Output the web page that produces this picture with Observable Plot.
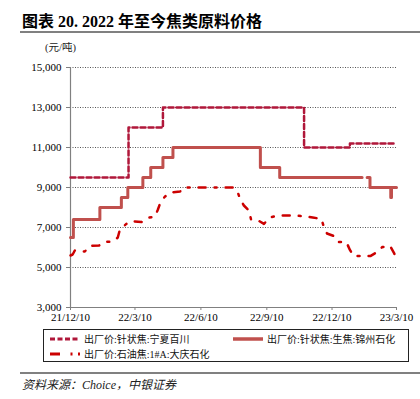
<!DOCTYPE html>
<html>
<head>
<meta charset="utf-8">
<script src="https://cdn.jsdelivr.net/npm/d3@7"></script>
<script src="https://cdn.jsdelivr.net/npm/@observablehq/plot@0.6"></script>
<style>
  html, body { margin: 0; padding: 0; background: #fff; }
  #root { position: relative; width: 420px; height: 399px; overflow: hidden; font-family: "Liberation Serif", "Noto Sans CJK SC", serif; }
  #title { position: absolute; left: 22px; top: 12px; font-size: 16px; font-weight: bold; white-space: nowrap; line-height: 20px; color: #000; }
  #rule1 { position: absolute; left: 20px; top: 31px; width: 400px; height: 2px; background: #808080; }
  #unit { position: absolute; left: 45px; top: 41px; font-size: 10.5px; white-space: nowrap; line-height: 14px; color: #222; }
  #chart { position: absolute; left: 0; top: 40px; }
  #legend { position: absolute; left: 43px; top: 329px; width: 364px; height: 31px; border: 1.5px solid #222; }
  .item { position: absolute; display: flex; align-items: center; font-size: 10px; white-space: nowrap; color: #111; font-family: "Liberation Serif", "Noto Sans CJK SC", serif; }
  .item svg { margin-right: 4px; }
  #rule2 { position: absolute; left: 20px; top: 372px; width: 400px; height: 1.5px; background: #808080; }
  #source { position: absolute; left: 22px; top: 377px; font-size: 12px; font-style: italic; white-space: nowrap; line-height: 16px; color: #222; }
</style>
</head>
<body>
<div id="root">
  <div id="title">图表 20. 2022 年至今焦类原料价格</div>
  <div id="rule1"></div>
  <div id="unit">(元/吨)</div>
  <div id="chart"></div>
  <div id="legend"></div>
  <div id="rule2"></div>
  <div id="source">资料来源：Choice，中银证券</div>
</div>
<script>
// ---- data ----
const seriesNames = ["出厂价:针状焦:宁夏百川", "出厂价:针状焦:生焦:锦州石化", "出厂价:石油焦:1#A:大庆石化"];
const seriesColors = ["#B0173A", "#C0504D", "#CC0000"];

// 宁夏百川 (step)
const s1Dates = ["2021-12-10", "2022-03-01", "2022-04-18", "2022-11-01", "2023-01-04", "2023-03-10"];
const s1Values = [9500, 12000, 13000, 11000, 11200, 11200];

// 锦州石化 (step, with a gap)
const s2Dates = ["2021-12-10", "2021-12-14", "2022-01-20", "2022-02-19", "2022-02-28", "2022-03-21", "2022-04-01", "2022-04-18", "2022-05-02", "2022-09-01", "2022-09-28", "2023-01-21", "2023-01-22", "2023-01-28", "2023-02-01", "2023-03-02", "2023-03-03", "2023-03-10"];
const s2Values = [6500, 7400, 8000, 8500, 9000, 9500, 10000, 10500, 11000, 10000, 9500, 9500, null, 9500, 9000, 8500, 9000, 9000];

// 大庆石化
const s3Dates = ["2021-12-10", "2021-12-13", "2021-12-16", "2021-12-30", "2022-01-06", "2022-01-19", "2022-01-27", "2022-02-08", "2022-02-14", "2022-02-17", "2022-02-26", "2022-03-05", "2022-03-19", "2022-03-28", "2022-04-07", "2022-04-11", "2022-04-15", "2022-04-21", "2022-04-29", "2022-05-12", "2022-05-17", "2022-06-02", "2022-06-23", "2022-07-10", "2022-07-25", "2022-07-31", "2022-08-04", "2022-08-09", "2022-08-16", "2022-08-19", "2022-08-29", "2022-09-06", "2022-09-14", "2022-09-26", "2022-10-07", "2022-10-21", "2022-11-02", "2022-11-13", "2022-11-25", "2022-11-29", "2022-12-03", "2022-12-13", "2022-12-19", "2022-12-30", "2023-01-04", "2023-01-09", "2023-01-21", "2023-02-02", "2023-02-11", "2023-02-18", "2023-03-01", "2023-03-07", "2023-03-09", "2023-03-10"];
const s3Values = [5600, 5650, 5850, 5800, 6080, 6100, 6280, 6300, 6500, 6900, 7180, 7320, 7270, 7480, 7550, 7900, 8300, 8550, 8750, 8800, 9000, 9000, 9000, 9000, 9000, 8800, 8400, 8100, 7850, 7400, 7350, 7180, 7500, 7600, 7600, 7600, 7550, 7500, 7430, 7000, 6700, 6570, 6270, 6270, 5880, 5580, 5580, 5580, 5770, 6020, 6080, 5690, 5320, 5300];

// axes
const xTickDates = ["2021-12-10", "2022-03-10", "2022-06-10", "2022-09-10", "2022-12-10", "2023-03-10"];
const xTickLabels = ["21/12/10", "22/3/10", "22/6/10", "22/9/10", "22/12/10", "23/3/10"];
const yTicks = [3000, 5000, 7000, 9000, 11000, 13000, 15000];

// ---- build ----
const parse = d3.utcParse("%Y-%m-%d");
const mk = (dates, vals) => dates.map((d, i) => ({date: parse(d), value: vals[i] == null ? NaN : vals[i]}));
const d1 = mk(s1Dates, s1Values);
const d2 = mk(s2Dates, s2Values);
const d3s = mk(s3Dates, s3Values);
const xt = xTickDates.map(parse);
const labelOf = new Map(xt.map((d, i) => [+d, xTickLabels[i]]));

const chart = Plot.plot({
  width: 420,
  height: 290,
  marginLeft: 70,
  marginRight: 24,
  marginTop: 27,
  marginBottom: 23,
  style: {fontFamily: "Liberation Serif, serif", fontSize: "11px", color: "#000", background: "transparent"},
  x: {type: "utc", domain: [xt[0], xt[xt.length - 1]], ticks: xt, tickFormat: d => labelOf.get(+d), tickSize: 3, tickPadding: 3, label: null},
  y: {domain: [3000, 15000], ticks: yTicks, tickFormat: d3.format(","), tickSize: 4, tickPadding: 5, label: null},
  marks: [
    Plot.ruleY(yTicks.slice(1), {stroke: "#555", strokeWidth: 1, strokeDasharray: "1,1.5"}),
    Plot.ruleX([xt[0]], {stroke: "#808080", strokeWidth: 1.2}),
    Plot.ruleY([3000], {stroke: "#808080", strokeWidth: 1.2}),
    Plot.line(d1, {x: "date", y: "value", curve: "step-after", stroke: seriesColors[0], strokeWidth: 2.5, strokeDasharray: "5,3"}),
    Plot.line(d2, {x: "date", y: "value", curve: "step-after", stroke: seriesColors[1], strokeWidth: 3}),
    Plot.line(d3s, {x: "date", y: "value", curve: "linear", stroke: seriesColors[2], strokeWidth: 2.5, strokeDasharray: "7,9,2,9"})
  ]
});
chart.querySelectorAll("[aria-label='y-axis tick'], [aria-label='x-axis tick']").forEach(g => g.setAttribute("stroke", "#808080"));
document.getElementById("chart").appendChild(chart);

// legend
const legend = document.getElementById("legend");
const swatchDash = ["5,2.5", null, "10,10.5,2,5.5,2,10"];
const swatchWidth = [3, 3.5, 3];
const positions = [[6, 1], [189, 1], [6, 16]];
seriesNames.forEach((name, i) => {
  const div = document.createElement("div");
  div.className = "item";
  div.style.left = positions[i][0] + "px";
  div.style.top = positions[i][1] + "px";
  const ns = "http://www.w3.org/2000/svg";
  const svg = document.createElementNS(ns, "svg");
  svg.setAttribute("width", 30); svg.setAttribute("height", 12);
  const ln = document.createElementNS(ns, "line");
  ln.setAttribute("x1", 0); ln.setAttribute("x2", 30); ln.setAttribute("y1", 6); ln.setAttribute("y2", 6);
  ln.setAttribute("stroke", seriesColors[i]); ln.setAttribute("stroke-width", swatchWidth[i]);
  if (swatchDash[i]) ln.setAttribute("stroke-dasharray", swatchDash[i]);
  svg.appendChild(ln);
  div.appendChild(svg);
  const span = document.createElement("span");
  span.textContent = name;
  div.appendChild(span);
  legend.appendChild(div);
});
</script>
</body>
</html>
